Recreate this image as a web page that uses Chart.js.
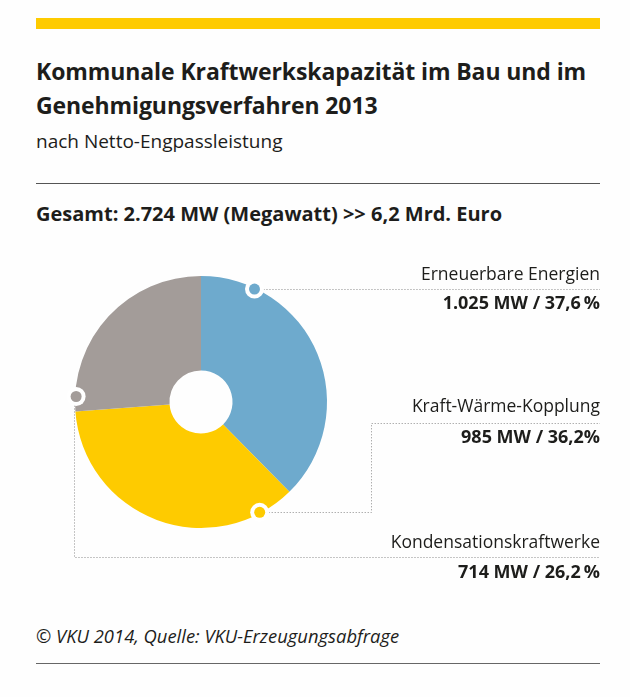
<!DOCTYPE html>
<html>
<head>
<meta charset="utf-8">
<script src="https://cdn.jsdelivr.net/npm/chart.js@4/dist/chart.umd.min.js"></script>
<style>
  html, body { margin: 0; padding: 0; background: #fefefe; }
  body { width: 630px; height: 697px; position: relative; overflow: hidden; font-family: "Open Sans", sans-serif; color: #1d1d1b; }
  .abs { position: absolute; white-space: nowrap; line-height: 1; }
  #bar { position: absolute; left: 36px; top: 18px; width: 564px; height: 11px; background: #fecb00; }
  .rule { position: absolute; left: 36px; width: 564px; height: 1px; background: #555; }
  .title { left: 36px; font-weight: 700; font-size: 23px; letter-spacing: -0.1px; }
  .sub { left: 36px; font-size: 19px; }
  .lab { right: 30px; font-size: 17.5px; text-align: right; }
  .val { right: 30px; font-size: 18px; font-weight: 700; text-align: right; }
  #chartWrap { position: absolute; left: 0; top: 240px; width: 630px; height: 380px; }
</style>
</head>
<body>
<div id="bar"></div>
<div class="abs title" style="top:60px">Kommunale Kraftwerkskapazität im Bau und im</div>
<div class="abs title" style="top:94px">Genehmigungsverfahren 2013</div>
<div class="abs sub" style="top:132px">nach Netto-Engpassleistung</div>
<div class="rule" style="top:183px"></div>
<div class="abs title" style="top:204px;font-size:20px;letter-spacing:0">Gesamt: 2.724 MW (Megawatt) &gt;&gt; 6,2 Mrd. Euro</div>

<div id="chartWrap"><canvas id="c" width="630" height="380"></canvas></div>

<div id="labels"></div>

<div class="abs sub" style="top:627px;font-style:italic;font-size:18.4px">© VKU 2014, Quelle: VKU-Erzeugungsabfrage</div>
<div class="rule" style="top:663px;background:#666"></div>

<script>
// ---- data ----
const categories = ["Erneuerbare Energien", "Kraft-Wärme-Kopplung", "Kondensationskraftwerke"];
const valuesMW = [1025, 985, 714];
const valueLabels = ["1.025 MW / 37,6\u2009%", "985 MW / 36,2%", "714 MW / 26,2\u2009%"];
const colors = ["#6eaacd", "#fecb00", "#a39c99"];

// label layout (positions only)
const labelTops = [{name: 265, val: 293}, {name: 397, val: 427}, {name: 533, val: 562}];
const labelsDiv = document.getElementById('labels');
categories.forEach((c, i) => {
  const n = document.createElement('div');
  n.className = 'abs lab'; n.style.top = labelTops[i].name + 'px'; n.textContent = c;
  const v = document.createElement('div');
  v.className = 'abs val'; v.style.top = labelTops[i].val + 'px'; v.textContent = valueLabels[i];
  labelsDiv.appendChild(n); labelsDiv.appendChild(v);
});

// callout plugin: dots on the ring edge + dotted leader lines
const callouts = {
  id: 'callouts',
  afterDatasetsDraw(chart, args, opts) {
    const ctx = chart.ctx;
    const meta = chart.getDatasetMeta(0);
    const top = 240; // canvas offset in page
    const endX = opts.endX;
    ctx.save();
    const dots = [];
    meta.data.forEach((arc, i) => {
      const p = arc.getProps(['x', 'y', 'startAngle', 'endAngle', 'outerRadius'], true);
      const a = p.startAngle + (p.endAngle - p.startAngle) * opts.frac[i];
      const r = p.outerRadius - 1;
      dots.push({x: p.x + r * Math.cos(a), y: p.y + r * Math.sin(a)});
    });
    ctx.strokeStyle = '#8c8c8c';
    ctx.lineWidth = 1;
    ctx.setLineDash([1, 2]);
    // blue: straight right
    let d = dots[0];
    let y0 = Math.round(d.y) + 0.5;
    ctx.beginPath(); ctx.moveTo(d.x + 9, y0); ctx.lineTo(endX, y0); ctx.stroke();
    // yellow: right, up, right
    d = dots[1];
    y0 = Math.round(d.y) + 0.5;
    const ly1 = opts.lineY[1] - top + 0.5;
    ctx.beginPath(); ctx.moveTo(d.x + 9, y0); ctx.lineTo(opts.elbowX + 0.5, y0);
    ctx.lineTo(opts.elbowX + 0.5, ly1); ctx.lineTo(endX, ly1); ctx.stroke();
    // grey: down, right
    d = dots[2];
    const ly2 = opts.lineY[2] - top + 0.5;
    const vx = Math.round(d.x) - 1.5;
    ctx.beginPath(); ctx.moveTo(vx, d.y + 9); ctx.lineTo(vx, ly2); ctx.lineTo(endX, ly2); ctx.stroke();
    ctx.setLineDash([]);
    dots.forEach((p, i) => {
      ctx.fillStyle = '#ffffff';
      ctx.beginPath(); ctx.arc(p.x, p.y, 9.5, 0, Math.PI * 2); ctx.fill();
      ctx.fillStyle = colors[i];
      ctx.beginPath(); ctx.arc(p.x, p.y, 5.5, 0, Math.PI * 2); ctx.fill();
    });
    ctx.restore();
  }
};

new Chart(document.getElementById('c'), {
  type: 'doughnut',
  data: {
    labels: categories,
    datasets: [{ data: valuesMW, backgroundColor: colors, borderWidth: 0, hoverOffset: 0 }]
  },
  options: {
    responsive: false,
    animation: false,
    cutout: '25%',
    layout: { padding: { left: 75, right: 303, top: 36, bottom: 92 } },
    plugins: {
      legend: { display: false },
      tooltip: { enabled: false },
      callouts: { frac: [0.187, 0.127, 0.073], endX: 600, elbowX: 371, lineY: [290, 423, 557] }
    }
  },
  plugins: [callouts]
});
</script>
</body>
</html>
